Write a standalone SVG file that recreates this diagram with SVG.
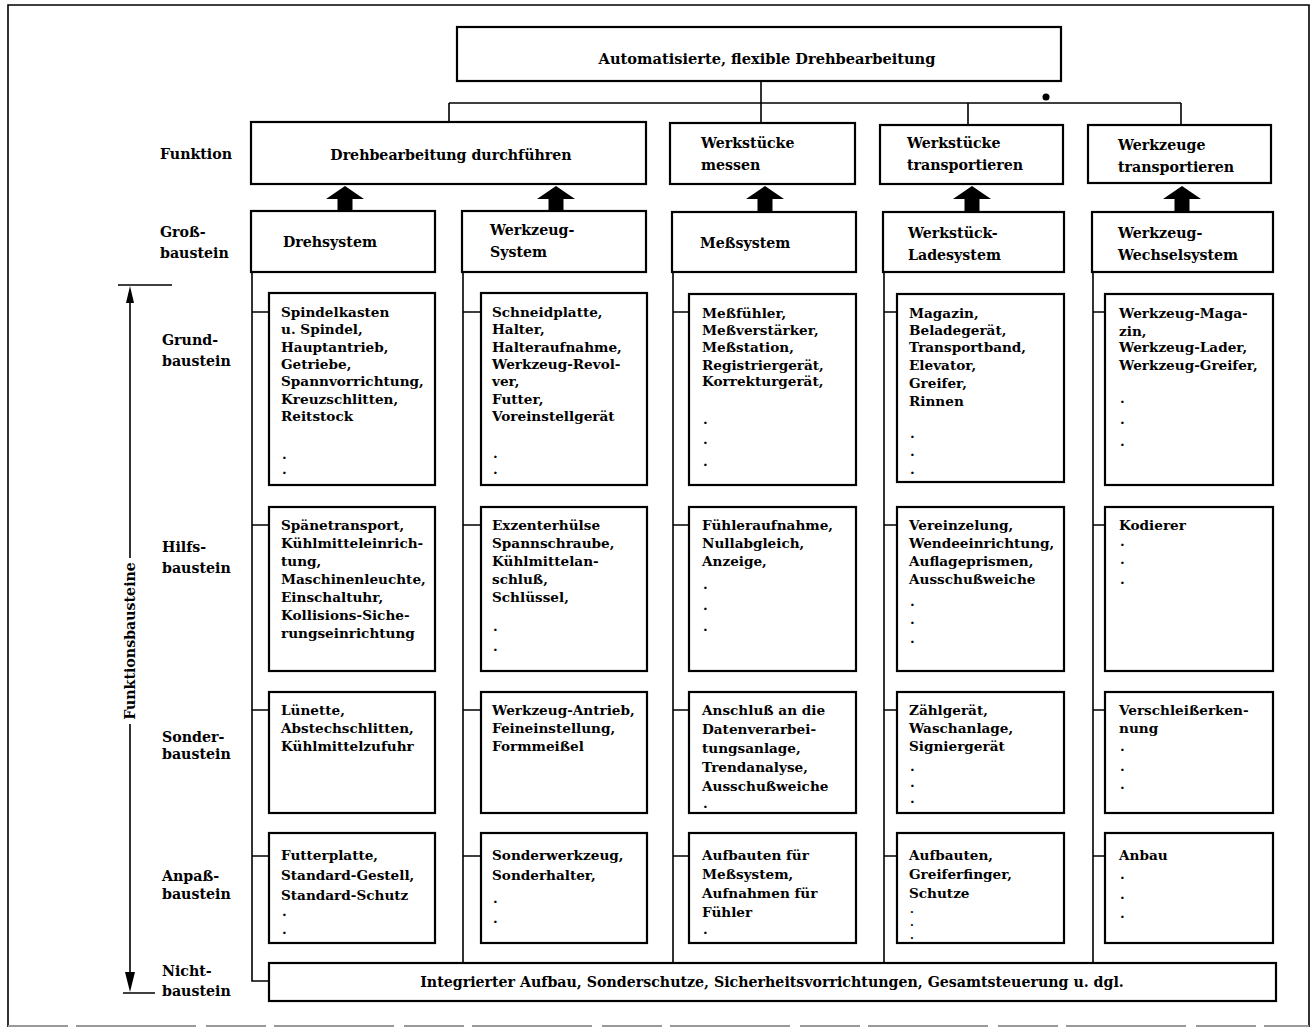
<svg xmlns="http://www.w3.org/2000/svg" width="1314" height="1029" viewBox="0 0 1314 1029">
<style>
.bg{fill:#fff}
.box{fill:#fff;stroke:#000;stroke-width:2.2}
.ln{fill:none;stroke:#000;stroke-width:1.6}
.t{font-family:"DejaVu Serif","Liberation Serif",serif;font-weight:bold;font-size:13.6px;fill:#000}
.h{font-size:14.2px}
.top{font-size:14.6px}
.d{font-size:11px}
.c{text-anchor:middle}
.arr{fill:#000}
</style>
<defs>
<path id="fat" d="M0,0 L19,13 L7.5,13 L7.5,25 L-7.5,25 L-7.5,13 L-19,13 Z"/>
</defs>
<rect class="bg" x="0" y="0" width="1314" height="1029"/>
<g id="frame">
<path class="ln" d="M8,1027 L8,5 L1309,5 L1309,1027" stroke-width="2"/>
<line x1="8" y1="1026" x2="1309" y2="1026" stroke="#999" stroke-width="2" stroke-dasharray="60 8 120 10"/>
</g>

<g id="connectors">
<path class="ln" d="M761,81 L761,123 M449,103 L1181,103 M449,103 L449,122 M968,103 L968,125 M1181,103 L1181,125"/>
<circle cx="1046" cy="97" r="3.5" fill="#000"/>
<use href="#fat" x="345" y="186" class="arr"/>
<use href="#fat" x="556" y="186" class="arr"/>
<use href="#fat" x="765" y="186" class="arr"/>
<use href="#fat" x="972" y="186" class="arr"/>
<use href="#fat" x="1182" y="186" class="arr"/>
<path class="ln" d="M252,272 L252,981 L269,981 M252,312 L269,312 M252,525 L269,525 M252,710 L269,710 M252,856 L269,856"/>
<path class="ln" d="M463,272 L463,963 M463,312 L481,312 M463,525 L481,525 M463,710 L481,710 M463,856 L481,856"/>
<path class="ln" d="M673,272 L673,963 M673,312 L689,312 M673,525 L689,525 M673,710 L689,710 M673,856 L689,856"/>
<path class="ln" d="M884,272 L884,963 M884,312 L897,312 M884,525 L897,525 M884,710 L897,710 M884,856 L897,856"/>
<path class="ln" d="M1093,272 L1093,963 M1093,312 L1105,312 M1093,525 L1105,525 M1093,710 L1105,710 M1093,856 L1105,856"/>
</g>

<g id="axis">
<path class="ln" d="M118,285 L172,285 M130,300 L130,558 M130,724 L130,975 M123,993 L155,993"/>
<path d="M130,286 L126,303 L134,303 Z M130,992 L125,972 L135,972 Z" fill="#000"/>
<text class="t h c" transform="translate(135,641) rotate(-90)">Funktionsbausteine</text>
</g>

<g id="labels">
<text class="t h" x="160" y="159">Funktion</text>
<text class="t h" x="160" y="237">Groß-</text><text class="t h" x="160" y="258">baustein</text>
<text class="t h" x="162" y="345">Grund-</text><text class="t h" x="162" y="366">baustein</text>
<text class="t h" x="162" y="552">Hilfs-</text><text class="t h" x="162" y="573">baustein</text>
<text class="t h" x="162" y="742">Sonder-</text><text class="t h" x="162" y="759">baustein</text>
<text class="t h" x="162" y="881">Anpaß-</text><text class="t h" x="162" y="899">baustein</text>
<text class="t h" x="162" y="976">Nicht-</text><text class="t h" x="162" y="996">baustein</text>
</g>

<g id="n-top"><rect class="box" x="457" y="27" width="604" height="54"/><text class="t top c" x="767" y="64">Automatisierte, flexible Drehbearbeitung</text></g>

<g id="f-dreh"><rect class="box" x="251" y="122" width="395" height="62"/><text class="t h c" x="451" y="160">Drehbearbeitung durchführen</text></g>
<g id="f-messen"><rect class="box" x="670" y="123" width="185" height="61"/><text class="t h" x="701" y="148">Werkstücke</text><text class="t h" x="701" y="170">messen</text></g>
<g id="f-wst"><rect class="box" x="880" y="125" width="183" height="59"/><text class="t h" x="907" y="148">Werkstücke</text><text class="t h" x="907" y="170">transportieren</text></g>
<g id="f-wzt"><rect class="box" x="1088" y="125" width="183" height="58"/><text class="t h" x="1118" y="150">Werkzeuge</text><text class="t h" x="1118" y="172">transportieren</text></g>

<g id="g-dreh"><rect class="box" x="251" y="211" width="184" height="61"/><text class="t h" x="283" y="247">Drehsystem</text></g>
<g id="g-wz"><rect class="box" x="462" y="211" width="184" height="61"/><text class="t h" x="490" y="235">Werkzeug-</text><text class="t h" x="490" y="257">System</text></g>
<g id="g-mess"><rect class="box" x="672" y="212" width="184" height="60"/><text class="t h" x="700" y="248">Meßsystem</text></g>
<g id="g-lade"><rect class="box" x="883" y="212" width="181" height="60"/><text class="t h" x="908" y="238">Werkstück-</text><text class="t h" x="908" y="260">Ladesystem</text></g>
<g id="g-wech"><rect class="box" x="1092" y="212" width="181" height="60"/><text class="t h" x="1118" y="238">Werkzeug-</text><text class="t h" x="1118" y="260">Wechselsystem</text></g>

<!-- Grundbausteine -->
<g id="gb-dreh"><rect class="box" x="269" y="293" width="166" height="192"/>
<text class="t" x="281" y="317">Spindelkasten</text><text class="t" x="281" y="334">u. Spindel,</text><text class="t" x="281" y="352">Hauptantrieb,</text><text class="t" x="281" y="369">Getriebe,</text><text class="t" x="281" y="386">Spannvorrichtung,</text><text class="t" x="281" y="404">Kreuzschlitten,</text><text class="t" x="281" y="421">Reitstock</text><text class="t" x="282" y="459">.</text><text class="t" x="282" y="474">.</text></g>
<g id="gb-wz"><rect class="box" x="481" y="293" width="166" height="192"/>
<text class="t" x="492" y="317">Schneidplatte,</text><text class="t" x="492" y="334">Halter,</text><text class="t" x="492" y="352">Halteraufnahme,</text><text class="t" x="492" y="369">Werkzeug-Revol-</text><text class="t" x="492" y="386">ver,</text><text class="t" x="492" y="404">Futter,</text><text class="t" x="492" y="421">Voreinstellgerät</text><text class="t" x="493" y="458">.</text><text class="t" x="493" y="474">.</text></g>
<g id="gb-mess"><rect class="box" x="689" y="294" width="167" height="191"/>
<text class="t" x="702" y="318">Meßfühler,</text><text class="t" x="702" y="335">Meßverstärker,</text><text class="t" x="702" y="352">Meßstation,</text><text class="t" x="702" y="370">Registriergerät,</text><text class="t" x="702" y="386">Korrekturgerät,</text><text class="t" x="703" y="424">.</text><text class="t" x="703" y="444">.</text><text class="t" x="703" y="466">.</text></g>
<g id="gb-lade"><rect class="box" x="897" y="294" width="167" height="188"/>
<text class="t" x="909" y="318">Magazin,</text><text class="t" x="909" y="335">Beladegerät,</text><text class="t" x="909" y="352">Transportband,</text><text class="t" x="909" y="370">Elevator,</text><text class="t" x="909" y="388">Greifer,</text><text class="t" x="909" y="406">Rinnen</text><text class="t" x="910" y="438">.</text><text class="t" x="910" y="456">.</text><text class="t" x="910" y="474">.</text></g>
<g id="gb-wech"><rect class="box" x="1105" y="294" width="168" height="191"/>
<text class="t" x="1119" y="318">Werkzeug-Maga-</text><text class="t" x="1119" y="336">zin,</text><text class="t" x="1119" y="352">Werkzeug-Lader,</text><text class="t" x="1119" y="370">Werkzeug-Greifer,</text><text class="t" x="1120" y="403">.</text><text class="t" x="1120" y="424">.</text><text class="t" x="1120" y="446">.</text></g>

<!-- Hilfsbausteine -->
<g id="hb-dreh"><rect class="box" x="269" y="507" width="166" height="164"/>
<text class="t" x="281" y="530">Spänetransport,</text><text class="t" x="281" y="548">Kühlmitteleinrich-</text><text class="t" x="281" y="566">tung,</text><text class="t" x="281" y="584">Maschinenleuchte,</text><text class="t" x="281" y="602">Einschaltuhr,</text><text class="t" x="281" y="620">Kollisions-Siche-</text><text class="t" x="281" y="638">rungseinrichtung</text></g>
<g id="hb-wz"><rect class="box" x="481" y="507" width="166" height="164"/>
<text class="t" x="492" y="530">Exzenterhülse</text><text class="t" x="492" y="548">Spannschraube,</text><text class="t" x="492" y="566">Kühlmittelan-</text><text class="t" x="492" y="584">schluß,</text><text class="t" x="492" y="602">Schlüssel,</text><text class="t" x="493" y="631">.</text><text class="t" x="493" y="651">.</text></g>
<g id="hb-mess"><rect class="box" x="689" y="507" width="167" height="164"/>
<text class="t" x="702" y="530">Fühleraufnahme,</text><text class="t" x="702" y="548">Nullabgleich,</text><text class="t" x="702" y="566">Anzeige,</text><text class="t" x="703" y="589">.</text><text class="t" x="703" y="610">.</text><text class="t" x="703" y="631">.</text></g>
<g id="hb-lade"><rect class="box" x="897" y="507" width="167" height="164"/>
<text class="t" x="909" y="530">Vereinzelung,</text><text class="t" x="909" y="548">Wendeeinrichtung,</text><text class="t" x="909" y="566">Auflageprismen,</text><text class="t" x="909" y="584">Ausschußweiche</text><text class="t" x="910" y="606">.</text><text class="t" x="910" y="624">.</text><text class="t" x="910" y="643">.</text></g>
<g id="hb-wech"><rect class="box" x="1105" y="507" width="168" height="164"/>
<text class="t" x="1119" y="530">Kodierer</text><text class="t" x="1120" y="546">.</text><text class="t" x="1120" y="564">.</text><text class="t" x="1120" y="584">.</text></g>

<!-- Sonderbausteine -->
<g id="sb-dreh"><rect class="box" x="269" y="692" width="166" height="121"/>
<text class="t" x="281" y="715">Lünette,</text><text class="t" x="281" y="733">Abstechschlitten,</text><text class="t" x="281" y="751">Kühlmittelzufuhr</text></g>
<g id="sb-wz"><rect class="box" x="481" y="692" width="166" height="121"/>
<text class="t" x="492" y="715">Werkzeug-Antrieb,</text><text class="t" x="492" y="733">Feineinstellung,</text><text class="t" x="492" y="751">Formmeißel</text></g>
<g id="sb-mess"><rect class="box" x="689" y="692" width="167" height="121"/>
<text class="t" x="702" y="715">Anschluß an die</text><text class="t" x="702" y="734">Datenverarbei-</text><text class="t" x="702" y="753">tungsanlage,</text><text class="t" x="702" y="772">Trendanalyse,</text><text class="t" x="702" y="791">Ausschußweiche</text><text class="t" x="703" y="808">.</text></g>
<g id="sb-lade"><rect class="box" x="897" y="692" width="167" height="121"/>
<text class="t" x="909" y="715">Zählgerät,</text><text class="t" x="909" y="733">Waschanlage,</text><text class="t" x="909" y="751">Signiergerät</text><text class="t" x="910" y="771">.</text><text class="t" x="910" y="787">.</text><text class="t" x="910" y="803">.</text></g>
<g id="sb-wech"><rect class="box" x="1105" y="692" width="168" height="121"/>
<text class="t" x="1119" y="715">Verschleißerken-</text><text class="t" x="1119" y="733">nung</text><text class="t" x="1120" y="751">.</text><text class="t" x="1120" y="771">.</text><text class="t" x="1120" y="789">.</text></g>

<!-- Anpaßbausteine -->
<g id="ab-dreh"><rect class="box" x="269" y="833" width="166" height="110"/>
<text class="t" x="281" y="860">Futterplatte,</text><text class="t" x="281" y="880">Standard-Gestell,</text><text class="t" x="281" y="900">Standard-Schutz</text><text class="t" x="282" y="916">.</text><text class="t" x="282" y="934">.</text></g>
<g id="ab-wz"><rect class="box" x="481" y="833" width="166" height="110"/>
<text class="t" x="492" y="860">Sonderwerkzeug,</text><text class="t" x="492" y="880">Sonderhalter,</text><text class="t" x="493" y="903">.</text><text class="t" x="493" y="923">.</text></g>
<g id="ab-mess"><rect class="box" x="689" y="833" width="167" height="110"/>
<text class="t" x="702" y="860">Aufbauten für</text><text class="t" x="702" y="879">Meßsystem,</text><text class="t" x="702" y="898">Aufnahmen für</text><text class="t" x="702" y="917">Fühler</text><text class="t" x="703" y="934">.</text></g>
<g id="ab-lade"><rect class="box" x="897" y="833" width="167" height="110"/>
<text class="t" x="909" y="860">Aufbauten,</text><text class="t" x="909" y="879">Greiferfinger,</text><text class="t" x="909" y="898">Schutze</text><text class="t d" x="910" y="913">.</text><text class="t d" x="910" y="926">.</text><text class="t d" x="910" y="939">.</text></g>
<g id="ab-wech"><rect class="box" x="1105" y="833" width="168" height="110"/>
<text class="t" x="1119" y="860">Anbau</text><text class="t" x="1120" y="879">.</text><text class="t" x="1120" y="899">.</text><text class="t" x="1120" y="918">.</text></g>

<g id="nb"><rect class="box" x="269" y="963" width="1007" height="38"/><text class="t h c" x="772" y="987">Integrierter Aufbau, Sonderschutze, Sicherheitsvorrichtungen, Gesamtsteuerung u. dgl.</text></g>
</svg>
